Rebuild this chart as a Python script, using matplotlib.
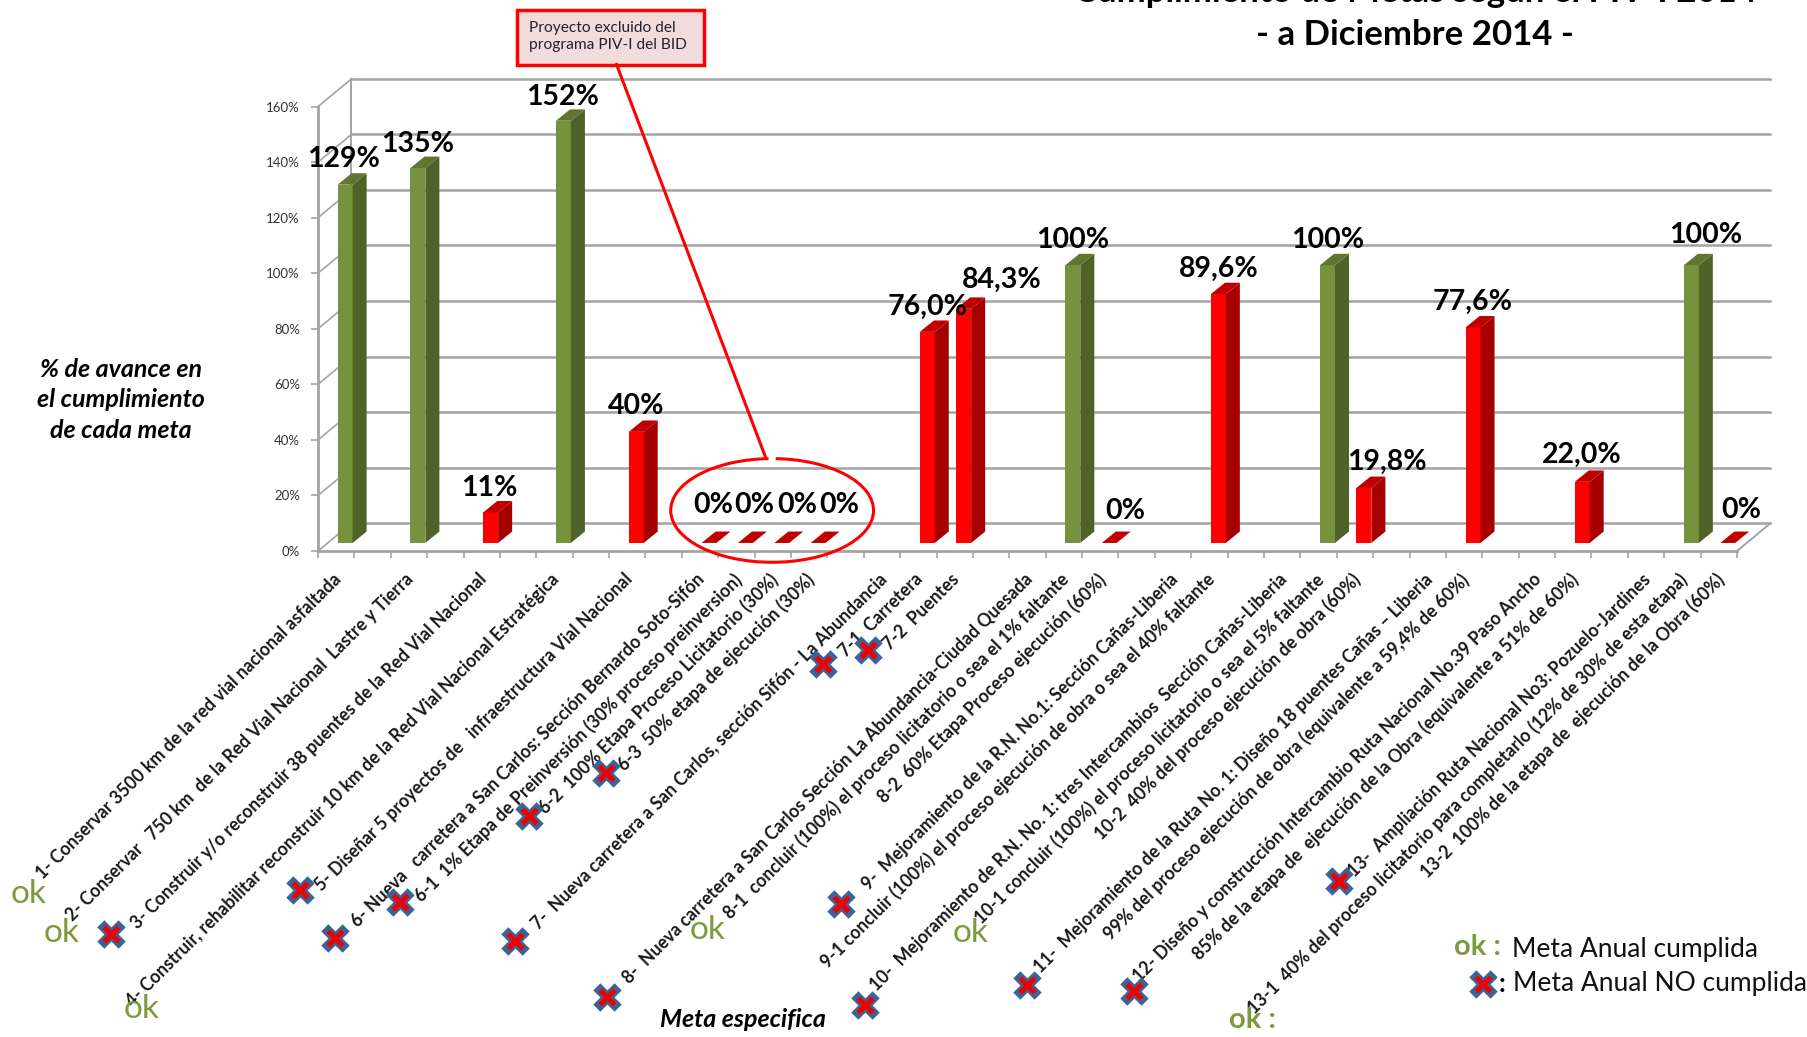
import numpy as np
import matplotlib; matplotlib.use('Agg')
import matplotlib.pyplot as plt
from matplotlib.patches import Polygon, Arc, Rectangle
from matplotlib.transforms import ScaledTranslation

W, H = 1807, 1037
S = W / 1568  # reference px per overlay unit
plt.rcParams['font.family'] = ['Lato', 'DejaVu Sans']

# data
n_cats = 39
y_ticks = [0, 20, 40, 60, 80, 100, 120, 140, 160]
bar_idx = [0, 2, 4, 6, 8, 10, 11, 12, 13, 16, 17, 20, 21, 24, 27, 28, 31, 34, 37, 38]
bar_val = [129, 135, 11, 152, 40, 0, 0, 0, 0, 76, 84.3, 100, 0, 89.6, 100, 19.8, 77.6, 22, 100, 0]
bar_txt = ['129%', '135%', '11%', '152%', '40%', '0%', '0%', '0%', '0%', '76,0%', '84,3%', '100%', '0%',
           '89,6%', '100%', '19,8%', '77,6%', '22,0%', '100%', '0%']
bar_ok = [1, 1, 0, 1, 0, 0, 0, 0, 0, 0, 0, 1, 0, 0, 1, 0, 0, 0, 1, 0]
lab_off_x = [-1.5, 0, -1, -1, 0, 3.5, 8, 13.5, 18, 0, 33, 0, 14, 0, 0, 20, 0, 0, 12, 12]
lab_off_y = [22, 21, 21, 21, 22, 33, 33, 33, 33, 22, 25, 22, 28, 22, 22, 23, 22, 23, 26, 29]

cat_idx = [0, 2, 4, 6, 8, 10, 11, 12, 13, 15, 16, 17, 19, 20, 21, 23, 24, 26, 27, 28, 30, 31, 33, 34, 36, 37, 38]
cat_txt = ['1- Conservar 3500 km de la red vial nacional asfaltada',
           '2- Conservar   750 km  de la Red Vial Nacional  Lastre y Tierra',
           '3- Construir y/o reconstruir 38 puentes de la Red Vial Nacional',
           '4- Construir, rehabilitar reconstruir 10 km de la Red Vial Nacional Estratégica',
           '5- Diseñar 5 proyectos de   infraestructura Vial Nacional',
           '6- Nueva   carretera a San Carlos: Sección Bernardo Soto-Sifón',
           '6-1  1% Etapa de Preinversión (30% proceso preinversion)',
           '6-2  100% Etapa Proceso Licitatorio (30%)',
           '6-3  50% etapa de ejecución (30%)',
           '7-  Nueva carretera a San Carlos, sección Sifón - La Abundancia',
           '7-1  Carretera',
           '7-2  Puentes',
           '8-  Nueva carretera a San Carlos Sección La Abundancia-Ciudad Quesada',
           '8-1  concluir (100%) el proceso licitatorio o sea el 1% faltante',
           '8-2  60% Etapa Proceso ejecución (60%)',
           '9-  Mejoramiento de la R.N. No.1: Sección Cañas-Liberia',
           '9-1 concluir (100%) el proceso ejecución de obra o sea el 40% faltante',
           '10-  Mejoramiento de R.N. No. 1: tres Intercambios  Sección Cañas-Liberia',
           '10-1 concluir (100%) el proceso licitatorio o sea el 5% faltante',
           '10-2  40% del proceso ejecución de obra (60%)',
           '11-  Mejoramiento de la Ruta No. 1: Diseño 18 puentes Cañas – Liberia',
           '99% del proceso ejecución de obra (equivalente a 59,4% de 60%)',
           '12- Diseño y construcción Intercambio Ruta Nacional No.39 Paso Ancho',
           '85% de la etapa de  ejecución de la Obra (equivalente a 51% de 60%)',
           '13-  Ampliación Ruta Nacional No3: Pozuelo-Jardines',
           '13-1  40% del proceso licitatorio para completarlo (12% de 30% de esta etapa)',
           '13-2  100% de la etapa de  ejecución de la Obra (60%)']

# annotation places, in reference units of the 1568x900 view
ok_x = [25, 53, 123, 614, 842]
ok_y = [776, 810, 876, 807, 810]
miss_x = [96, 260, 291, 347, 459, 526, 447, 527, 714, 753, 730, 751, 891, 984, 1162, 1287]
miss_y = [811, 772, 814, 783, 708, 671, 817, 865, 576, 564, 785, 872, 855, 860, 765, 854]

GRID = '#a3a3a3'
fig = plt.figure(figsize=(W / 100, H / 100), dpi=100, facecolor='white')
ax = fig.add_axes([318 / W, 1 - 551 / H, 1419 / W, 444.4 / H])
ax.set_xlim(-0.5, n_cats - 0.5); ax.set_ylim(0, 160)
ax.patch.set_alpha(0)
for s in ['top', 'right']: ax.spines[s].set_visible(False)
for s in ['left', 'bottom']: ax.spines[s].set_color(GRID); ax.spines[s].set_linewidth(2)

# depth of the walls and of the columns, data units
wall_dx, wall_dy = 0.92, 10
base_dx, base_dy = 0.246, 2.9
bar_w, bar_dx, bar_dy = 0.41, 0.385, 4.1

x0, x1 = -0.5, n_cats - 0.5
for t in y_ticks:
    ax.plot([x0 + wall_dx, x1 + wall_dx], [t + wall_dy] * 2, color=GRID, lw=1.8, zorder=1, clip_on=False)
    ax.plot([x0, x0 + wall_dx], [t, t + wall_dy], color=GRID, lw=1.2, zorder=1, clip_on=False)
ax.plot([x0 + wall_dx] * 2, [wall_dy, 160 + wall_dy], color=GRID, lw=1.4, zorder=1, clip_on=False)
ax.plot([x1, x1 + wall_dx], [0, wall_dy], color=GRID, lw=1.4, zorder=1, clip_on=False)

for i, v, ok in zip(bar_idx, bar_val, bar_ok):
    front, side, top = ('#76923c', '#4f6228', '#5f7530') if ok else ('#ff0000', '#a60000', '#c00000')
    l = i + base_dx - bar_w / 2; r = l + bar_w
    y0 = base_dy; y1 = base_dy + v
    if v > 0:
        ax.bar(i + base_dx, v, width=bar_w, bottom=y0, color=front, zorder=3)
        ax.add_patch(Polygon([(r, y0), (r + bar_dx, y0 + bar_dy), (r + bar_dx, y1 + bar_dy), (r, y1)],
                             closed=True, fc=side, ec='none', zorder=3))
    ax.add_patch(Polygon([(l, y1), (r, y1), (r + bar_dx, y1 + bar_dy), (l + bar_dx, y1 + bar_dy)],
                         closed=True, fc=top, ec='none', zorder=3, clip_on=False))

for i, v, t, ox, oy in zip(bar_idx, bar_val, bar_txt, lab_off_x, lab_off_y):
    ax.annotate(t, xy=(i + base_dx, v + base_dy), xytext=(ox * S, oy * S), textcoords='offset pixels',
                ha='center', va='center', fontsize=20.5, fontweight='bold', color='black', zorder=6,
                annotation_clip=False)

ax.set_yticks(y_ticks)
ax.set_yticklabels(['{}%'.format(t) for t in y_ticks], fontsize=9.5, color='#333333')
ax.tick_params(axis='y', length=5, width=1.2, color=GRID, pad=8)
ax.set_xticks(np.arange(n_cats + 1) - 0.5)
ax.set_xticklabels([])
ax.tick_params(axis='x', which='major', length=5, width=1.2, color=GRID)
ax.set_xticks(cat_idx, minor=True)
ax.set_xticklabels(cat_txt, minor=True, rotation=45, ha='right', va='top', rotation_mode='anchor',
                   fontsize=12.7, fontweight='bold', color='#1a1a1a')
ax.tick_params(axis='x', which='minor', length=0, pad=14)
shift = ScaledTranslation(-4 / 100, 0, fig.dpi_scale_trans)
for lb in ax.get_xticklabels(minor=True):
    lb.set_transform(lb.get_transform() + shift)

# overlay for callout, marks and notes
ov = fig.add_axes([0, 0, 1, 1], zorder=5)
ov.set_xlim(0, 1568); ov.set_ylim(900, 0); ov.axis('off'); ov.patch.set_alpha(0)

ov.add_patch(Rectangle((449, 9), 162, 47, fc='#f2dcdb', ec='red', lw=2.5))
ov.text(459, 32, 'Proyecto excluido del\nprograma PIV-I del BID', fontsize=11.2, color='#222233',
        va='center', ha='left', linespacing=1.25)
ov.plot([535, 664], [56, 396], color='red', lw=2.2)
ov.add_patch(Arc((670, 443), 176, 90, theta1=274, theta2=626, color='red', lw=2.2))

ov.scatter(miss_x, miss_y, marker='X', s=420, color='#3b6398', linewidths=0, zorder=7)
ov.scatter(miss_x, miss_y, marker='x', s=110, color='#f00000', linewidths=3.6, zorder=8)
for x, y in zip(ok_x, ok_y):
    ov.text(x, y, 'ok', fontsize=24, color='#7d9a3e', ha='center', va='center')

ov.text(105, 347, '% de avance en\nel cumplimiento\nde cada meta', fontsize=18, fontweight='bold', fontstyle='italic',
        ha='center', va='center', linespacing=1.38)
ov.text(645, 885, 'Meta especifica', fontsize=18, fontweight='bold', fontstyle='italic', ha='center', va='center')
ov.text(1228, 30, '- a Diciembre 2014 -', fontsize=25, fontweight='bold', ha='center', va='center')
ov.text(1228, -7, 'Cumplimiento de Metas según el PIV-I 2014', fontsize=25, fontweight='bold', ha='center',
        va='center', clip_on=False)

ov.text(1282, 822, 'ok :', fontsize=21, fontweight='bold', color='#7d9a3e', ha='center', va='center')
ov.text(1087, 885, 'ok :', fontsize=21, fontweight='bold', color='#7d9a3e', ha='center', va='center')
ov.text(1312, 824, 'Meta Anual cumplida', fontsize=19, ha='left', va='center', color='#111111')
ov.text(1300, 854, ':', fontsize=19, fontweight='bold', ha='left', va='center')
ov.text(1313, 854, 'Meta Anual NO cumplida', fontsize=19, ha='left', va='center', color='#111111')

fig.savefig('out.png', dpi=100, facecolor='white')
